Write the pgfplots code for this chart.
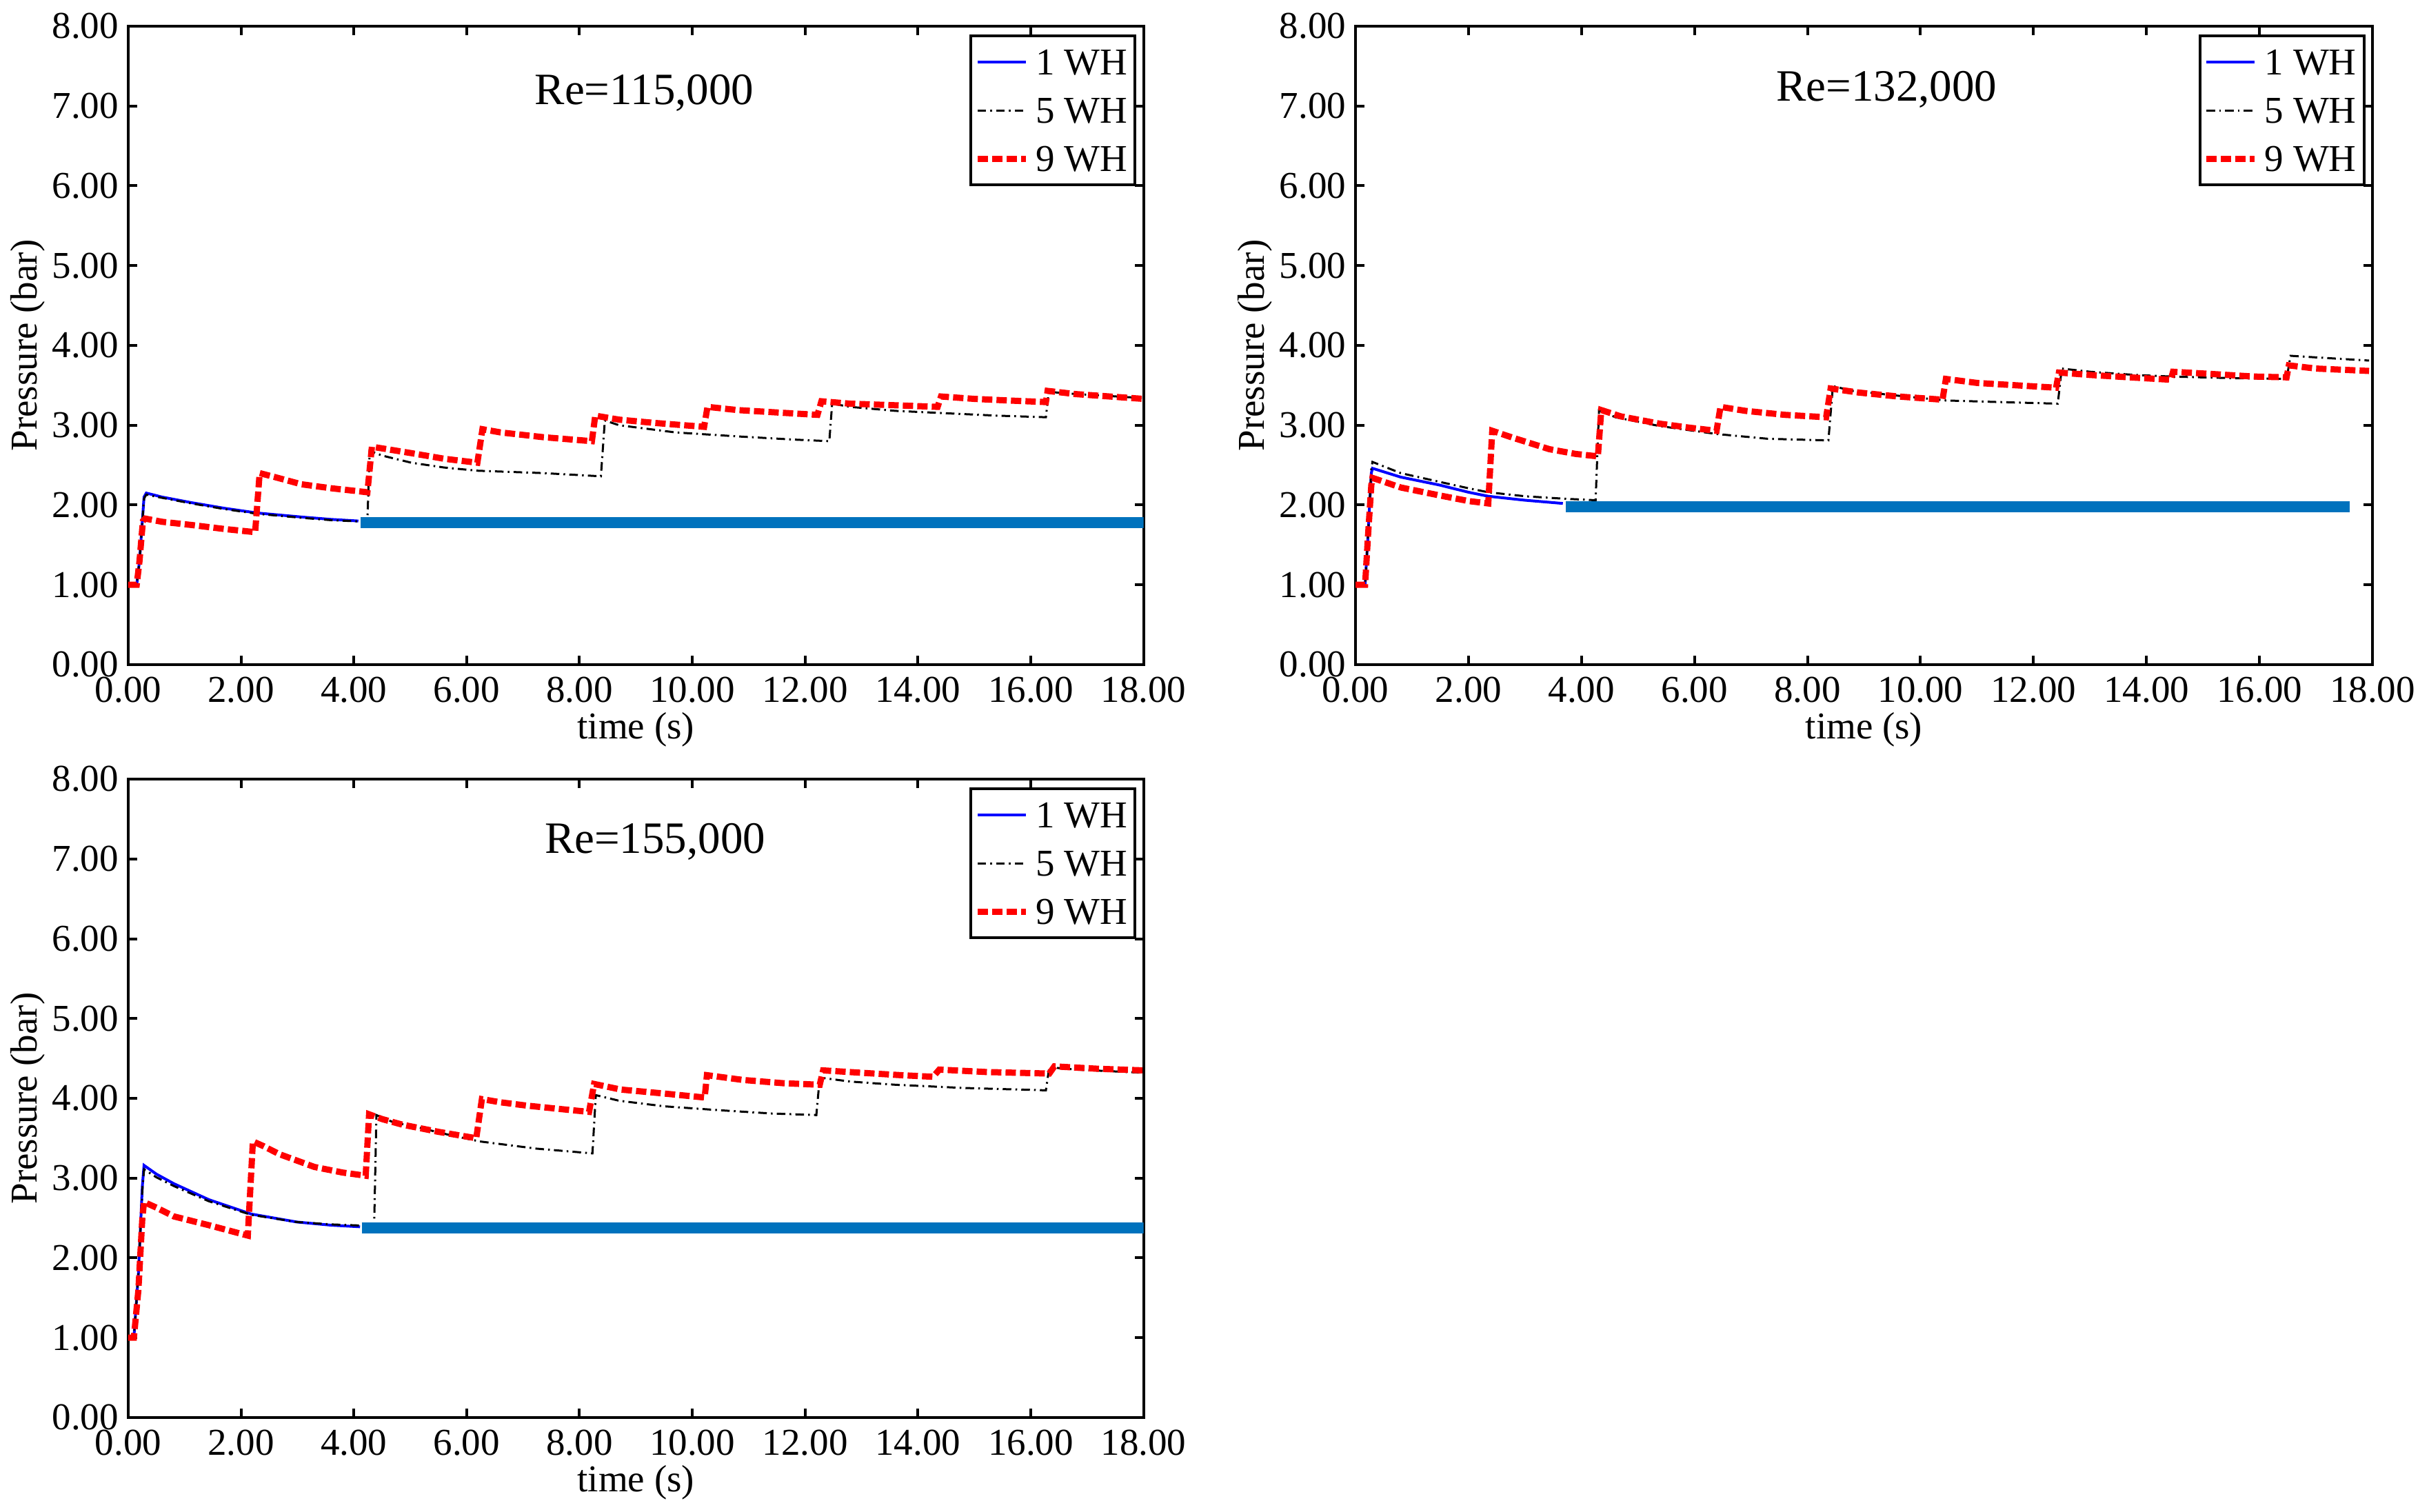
\documentclass[border=0pt]{standalone}
\usepackage{fontspec}
\setmainfont{Liberation Serif}
\usepackage{pgfplots}
\pgfplotsset{compat=1.18}
\definecolor{thickblue}{RGB}{0,114,189}
\pgfplotsset{
  myaxis/.style={
    scale only axis,
    width=294.5pt, height=185.2pt,
    xmin=0, xmax=18, ymin=0, ymax=8,
    xtick={0,2,...,18}, ytick={0,1,...,8},
    tick align=inside, tick pos=both,
    major tick length=2.6pt,
    axis line style={line width=0.8pt},
    every tick/.style={black, line width=0.8pt},
    /pgf/number format/assume math mode=true,
    /pgf/number format/fixed,
    /pgf/number format/fixed zerofill,
    /pgf/number format/precision=2,
    tick label style={font=\fontsize{11}{13}\selectfont},
    yticklabel style={inner xsep=2.6pt},
    label style={font=\fontsize{11}{13}\selectfont},
    xlabel={time (s)}, ylabel={Pressure (bar)},
    xlabel style={at={(axis description cs:0.5,-0.1015)}, anchor=center},
    ylabel style={at={(axis description cs:-0.099,0.5)}, anchor=center},
    legend cell align=left,
    legend image code/.code={\draw[##1] (0pt,0pt) -- (14pt,0pt);},
    legend style={at={(axis description cs:0.993,0.987)}, anchor=north east,
      draw=black, line width=0.8pt, inner xsep=1pt, inner ysep=2.75pt,
      row sep=4.3pt, /tikz/column sep=0.8pt,
      font=\fontsize{11}{13}\selectfont,
      nodes={inner sep=1.2pt, text height=7.3pt, text depth=0pt}},
  },
  wh1/.style={color=blue, line width=0.8pt},
  wh5/.style={color=black, line width=0.6pt, dash pattern=on 2.5pt off 1.2pt on 0.5pt off 1.2pt},
  wh9/.style={color=red, line width=1.8pt, dash pattern=on 3pt off 1.2pt},
  thk/.style={color=thickblue, line width=3.2pt, forget plot},
}
\begin{document}
\begin{tikzpicture}
\useasboundingbox (0,0) rectangle (704.6pt,438.6pt);
% ---------------- Re=115,000 ----------------
\begin{axis}[myaxis, at={(37.2pt,245.8pt)}, anchor=south west]
\addplot[wh1] coordinates {(0,1.0)(0.15,1.0)(0.2,1.3)(0.28,2.1)(0.32,2.15)(0.6,2.10)(1.12,2.03)(1.7,1.96)(2.29,1.90)(3.07,1.85)(3.6,1.82)(4.08,1.80)};
\addplot[wh5] coordinates {(0,1.0)(0.15,1.0)(0.2,1.3)(0.28,2.08)(0.32,2.13)(0.6,2.09)(1.12,2.02)(1.7,1.95)(2.29,1.89)(3.07,1.84)(3.6,1.81)(4.24,1.79)
(4.28,2.68)(4.5,2.62)(5.02,2.53)(5.6,2.47)(6.19,2.43)(7.36,2.40)(8.38,2.36)
(8.45,3.06)(8.7,3.00)(9.70,2.91)(10.8,2.86)(11.8,2.82)(12.43,2.80)
(12.48,3.27)(12.8,3.23)(13.6,3.18)(14.5,3.15)(15.4,3.12)(16.27,3.10)
(16.32,3.42)(16.6,3.40)(17.3,3.37)(18,3.34)};
\addplot[wh9] coordinates {(0,1.0)(0.15,1.0)(0.2,1.3)(0.26,1.8)(0.3,1.83)(0.6,1.79)(1.12,1.75)(1.7,1.70)(2.25,1.66)
(2.33,2.40)(2.6,2.35)(3.07,2.26)(3.6,2.21)(4.24,2.16)
(4.32,2.73)(4.5,2.71)(5.02,2.65)(5.6,2.58)(6.19,2.53)
(6.28,2.95)(6.6,2.91)(7.36,2.85)(8.22,2.80)
(8.28,3.12)(8.7,3.07)(9.31,3.03)(10.21,2.98)
(10.27,3.23)(10.8,3.19)(11.5,3.16)(12.22,3.13)
(12.29,3.30)(12.8,3.27)(13.6,3.25)(14.35,3.23)
(14.41,3.36)(15.0,3.33)(15.6,3.31)(16.27,3.29)
(16.3,3.43)(16.8,3.39)(17.4,3.36)(18,3.33)};
\addplot[thk] coordinates {(4.12,1.78)(18,1.78)};
\legend{1 WH,5 WH,9 WH}
\node[anchor=base, font=\fontsize{13}{15}\selectfont] at (axis cs:9.15,7.02) {Re=115,000};
\end{axis}
% ---------------- Re=132,000 ----------------
\begin{axis}[myaxis, width=295pt, at={(393.2pt,245.8pt)}, anchor=south west]
\addplot[wh1] coordinates {(0,1.0)(0.17,1.0)(0.22,1.6)(0.28,2.4)(0.3,2.46)(0.8,2.35)(1.49,2.25)(2.0,2.16)(2.35,2.11)(3.0,2.06)(3.67,2.02)};
\addplot[wh5] coordinates {(0,1.0)(0.17,1.0)(0.22,1.6)(0.28,2.45)(0.3,2.54)(0.8,2.40)(1.49,2.29)(2.0,2.21)(2.35,2.16)(3.0,2.11)(3.67,2.08)(4.25,2.06)
(4.31,3.19)(4.6,3.10)(5.38,2.99)(6.39,2.89)(7.3,2.83)(8.37,2.81)
(8.45,3.49)(8.8,3.43)(9.6,3.37)(10.45,3.31)(11.4,3.29)(12.43,3.27)
(12.5,3.71)(13.0,3.67)(13.8,3.63)(14.43,3.61)(15.5,3.59)(16.48,3.58)
(16.55,3.87)(17.0,3.85)(17.94,3.81)};
\addplot[wh9] coordinates {(0,1.0)(0.17,1.0)(0.22,1.6)(0.28,2.25)(0.3,2.34)(0.8,2.22)(1.49,2.12)(2.0,2.05)(2.35,2.02)
(2.42,2.93)(2.8,2.84)(3.43,2.70)(3.9,2.64)(4.29,2.61)
(4.35,3.19)(4.7,3.11)(5.38,3.02)(5.9,2.97)(6.39,2.93)
(6.46,3.23)(6.9,3.18)(7.6,3.13)(8.33,3.10)
(8.41,3.46)(8.9,3.41)(9.6,3.36)(10.39,3.32)
(10.45,3.58)(11.0,3.53)(11.7,3.50)(12.40,3.47)
(12.45,3.66)(13.0,3.63)(13.7,3.60)(14.43,3.57)
(14.47,3.67)(15.2,3.64)(15.9,3.61)(16.48,3.60)
(16.52,3.75)(17.0,3.71)(17.94,3.68)};
\addplot[thk] coordinates {(3.72,1.98)(17.6,1.98)};
\legend{1 WH,5 WH,9 WH}
\node[anchor=base, font=\fontsize{13}{15}\selectfont] at (axis cs:9.40,7.06) {Re=132,000};
\end{axis}
% ---------------- Re=155,000 ----------------
\begin{axis}[myaxis, at={(37.2pt,27.4pt)}, anchor=south west]
\addplot[wh1] coordinates {(0,1.0)(0.1,1.0)(0.18,1.8)(0.25,2.9)(0.28,3.16)(0.5,3.05)(0.81,2.93)(1.43,2.73)(2.18,2.55)(2.99,2.45)(3.6,2.41)(4.11,2.39)};
\addplot[wh5] coordinates {(0,1.0)(0.1,1.0)(0.18,1.8)(0.25,2.85)(0.28,3.11)(0.5,3.01)(0.81,2.90)(1.43,2.71)(2.18,2.54)(2.99,2.45)(3.6,2.42)(4.36,2.40)
(4.40,3.79)(4.7,3.70)(5.17,3.63)(5.7,3.54)(6.23,3.46)(7.23,3.37)(8.23,3.31)
(8.29,4.04)(8.7,3.97)(9.5,3.90)(10.5,3.85)(11.4,3.81)(12.2,3.79)
(12.26,4.26)(12.8,4.21)(13.6,4.17)(14.8,4.13)(16.27,4.10)
(16.33,4.39)(16.8,4.36)(18,4.32)};
\addplot[wh9] coordinates {(0,1.0)(0.1,1.0)(0.18,1.6)(0.25,2.5)(0.28,2.70)(0.5,2.63)(0.81,2.52)(1.43,2.41)(2.12,2.28)
(2.21,3.46)(2.4,3.40)(2.68,3.30)(3.30,3.14)(3.8,3.07)(4.21,3.03)
(4.27,3.80)(4.5,3.74)(4.86,3.67)(5.5,3.58)(6.17,3.50)
(6.27,3.99)(6.6,3.95)(7.05,3.91)(7.6,3.87)(8.17,3.83)
(8.26,4.18)(8.73,4.11)(9.5,4.06)(10.22,4.01)
(10.26,4.29)(10.9,4.23)(11.6,4.19)(12.26,4.17)
(12.32,4.35)(13.0,4.32)(13.7,4.29)(14.27,4.27)
(14.38,4.36)(15.2,4.33)(16.33,4.31)
(16.42,4.40)(17.2,4.37)(18,4.35)};
\addplot[thk] coordinates {(4.14,2.38)(18,2.38)};
\legend{1 WH,5 WH,9 WH}
\node[anchor=base, font=\fontsize{13}{15}\selectfont] at (axis cs:9.34,7.07) {Re=155,000};
\end{axis}
\end{tikzpicture}
\end{document}
